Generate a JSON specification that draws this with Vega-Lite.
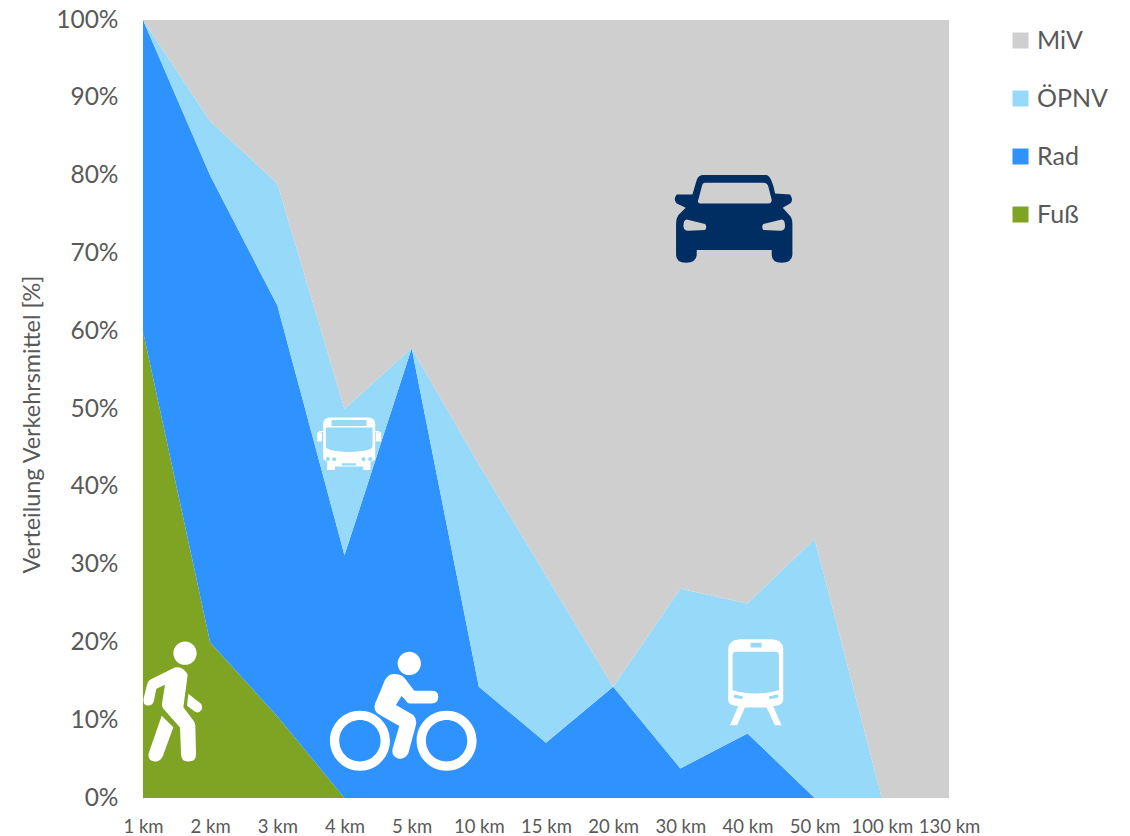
{
"$schema":"https://vega.github.io/schema/vega-lite/v6.json",
"width":806,"height":778,"autosize":{"type":"none"},
"padding":{"left":143,"top":20,"right":181,"bottom":38},
"background":"white",
"config":{"view":{"stroke":null},"font":"Lato"},
"resolve":{"scale":{"x":"independent"}},
"layer":[
{"data":{"values":[
{"km":"1 km","mode":"Fuß","rank":1,"share":60},{"km":"1 km","mode":"Rad","rank":2,"share":40},{"km":"1 km","mode":"ÖPNV","rank":3,"share":0},{"km":"1 km","mode":"MiV","rank":4,"share":0},
{"km":"2 km","mode":"Fuß","rank":1,"share":20},{"km":"2 km","mode":"Rad","rank":2,"share":60},{"km":"2 km","mode":"ÖPNV","rank":3,"share":7},{"km":"2 km","mode":"MiV","rank":4,"share":13},
{"km":"3 km","mode":"Fuß","rank":1,"share":10.5},{"km":"3 km","mode":"Rad","rank":2,"share":52.8},{"km":"3 km","mode":"ÖPNV","rank":3,"share":15.7},{"km":"3 km","mode":"MiV","rank":4,"share":21},
{"km":"4 km","mode":"Fuß","rank":1,"share":0},{"km":"4 km","mode":"Rad","rank":2,"share":31.2},{"km":"4 km","mode":"ÖPNV","rank":3,"share":18.8},{"km":"4 km","mode":"MiV","rank":4,"share":50},
{"km":"5 km","mode":"Fuß","rank":1,"share":0},{"km":"5 km","mode":"Rad","rank":2,"share":57.8},{"km":"5 km","mode":"ÖPNV","rank":3,"share":0},{"km":"5 km","mode":"MiV","rank":4,"share":42.2},
{"km":"10 km","mode":"Fuß","rank":1,"share":0},{"km":"10 km","mode":"Rad","rank":2,"share":14.3},{"km":"10 km","mode":"ÖPNV","rank":3,"share":28.6},{"km":"10 km","mode":"MiV","rank":4,"share":57.1},
{"km":"15 km","mode":"Fuß","rank":1,"share":0},{"km":"15 km","mode":"Rad","rank":2,"share":7.1},{"km":"15 km","mode":"ÖPNV","rank":3,"share":21.5},{"km":"15 km","mode":"MiV","rank":4,"share":71.4},
{"km":"20 km","mode":"Fuß","rank":1,"share":0},{"km":"20 km","mode":"Rad","rank":2,"share":14.3},{"km":"20 km","mode":"ÖPNV","rank":3,"share":0},{"km":"20 km","mode":"MiV","rank":4,"share":85.7},
{"km":"30 km","mode":"Fuß","rank":1,"share":0},{"km":"30 km","mode":"Rad","rank":2,"share":3.8},{"km":"30 km","mode":"ÖPNV","rank":3,"share":23.1},{"km":"30 km","mode":"MiV","rank":4,"share":73.1},
{"km":"40 km","mode":"Fuß","rank":1,"share":0},{"km":"40 km","mode":"Rad","rank":2,"share":8.3},{"km":"40 km","mode":"ÖPNV","rank":3,"share":16.7},{"km":"40 km","mode":"MiV","rank":4,"share":75},
{"km":"50 km","mode":"Fuß","rank":1,"share":0},{"km":"50 km","mode":"Rad","rank":2,"share":0},{"km":"50 km","mode":"ÖPNV","rank":3,"share":33.3},{"km":"50 km","mode":"MiV","rank":4,"share":66.7},
{"km":"100 km","mode":"Fuß","rank":1,"share":0},{"km":"100 km","mode":"Rad","rank":2,"share":0},{"km":"100 km","mode":"ÖPNV","rank":3,"share":0},{"km":"100 km","mode":"MiV","rank":4,"share":100},
{"km":"130 km","mode":"Fuß","rank":1,"share":0},{"km":"130 km","mode":"Rad","rank":2,"share":0},{"km":"130 km","mode":"ÖPNV","rank":3,"share":0},{"km":"130 km","mode":"MiV","rank":4,"share":100}
]},
"mark":{"type":"area","interpolate":"linear"},
"encoding":{
"x":{"field":"km","type":"ordinal","scale":{"type":"point","padding":0,"domain":["1 km","2 km","3 km","4 km","5 km","10 km","15 km","20 km","30 km","40 km","50 km","100 km","130 km"]},
"axis":{"title":null,"domain":false,"ticks":false,"labelAngle":0,"labelFontSize":18.5,"labelColor":"#595959","labelPadding":28,"labelBaseline":"middle","labelOverlap":false,"labelFont":"Lato","labelAlign":"center","labelBound":false,"labelFlush":false}},
"y":{"field":"share","type":"quantitative","stack":"zero","scale":{"domain":[0,100],"nice":false},
"axis":{"title":"Verteilung Verkehrsmittel [%]","titleFontSize":23.4,"titleFontWeight":"normal","titleColor":"#595959","titleFont":"Lato","titleX":-99,"titleY":404,"titleAnchor":"middle","values":[0,10,20,30,40,50,60,70,80,90,100],"labelExpr":"datum.value+'%'","labelFontSize":24.5,"labelColor":"#595959","labelPadding":25,"labelFont":"Lato","ticks":false,"grid":false,"domain":true,"domainColor":"#BFBFBF","domainWidth":1}},
"order":{"field":"rank","type":"ordinal"},
"color":{"field":"mode","type":"nominal","scale":{"domain":["MiV","ÖPNV","Rad","Fuß"],"range":["#CFCFCF","#97D9F8","#2E92FF","#7FA322"]},
"legend":{"title":null,"orient":"none","legendX":865,"legendY":8,"symbolType":"square","symbolSize":256,"symbolStrokeWidth":0,"symbolOpacity":1,"labelFontSize":25,"labelColor":"#595959","labelFont":"Lato","rowPadding":32,"labelOffset":4,"padding":0}}
}},
{"data":{"values":[{"icon":"Fuß","pos":0.447,"level":12.4}]},
"mark":{"type":"point","filled":true,"opacity":1,"size":0.4444,"color":"white","shape":"M1,-145 a35,35 0 1,0 70,0 a35,35 0 1,0 -70,0 Z M-69,-65 L5,-102 Q30,-108 44,-80 L31,17 L61,57 Q67,65 67,72 L69,158 Q70,180 46,180 Q24,180 24,158 L21,78 L-29,22 Q-35,15 -33,5 L-24,-50 L-50,-38 L-58,0 Q-62,12 -74,12 Q-92,12 -88,-10 L-78,-50 Q-76,-60 -69,-65 Z M-34,43 L1,77 L-31,165 Q-40,182 -56,180 Q-78,176 -73,155 Z M46,-23 L82,5 Q92,15 84,27 Q74,38 62,28 L42,13 Z"},
"encoding":{"x":{"field":"pos","type":"quantitative","scale":{"domain":[0,12],"nice":false},"axis":null},"y":{"field":"level","type":"quantitative"}}},
{"data":{"values":[{"icon":"Rad","pos":3.875,"level":11.3}]},
"mark":{"type":"point","filled":true,"opacity":1,"size":0.4444,"color":"white","shape":"M-220,92 a90,90 0 1,0 180,0 a90,90 0 1,0 -180,0 Z M-192,92 a62,62 0 1,1 124,0 a62,62 0 1,1 -124,0 Z M40,92 a90,90 0 1,0 180,0 a90,90 0 1,0 -180,0 Z M68,92 a62,62 0 1,1 124,0 a62,62 0 1,1 -124,0 Z M-17,-140 a35,35 0 1,0 70,0 a35,35 0 1,0 -70,0 Z M-55,-90 Q-45,-108 -30,-108 Q-5,-108 5,-95 L33,-58 L85,-58 Q105,-58 105,-40 Q105,-20 85,-20 L20,-20 Q12,-20 5,-32 L-5,-42 L-22,-15 L30,15 Q42,28 38,45 L15,130 Q5,148 -15,146 Q-37,138 -32,115 L-12,48 L-75,12 Q-95,-5 -80,-30 Z"},
"encoding":{"x":{"field":"pos","type":"quantitative","scale":{"domain":[0,12],"nice":false},"axis":null},"y":{"field":"level","type":"quantitative"}}},
{"data":{"values":[{"icon":"Bus","pos":3.07,"level":45.6}]},
"mark":{"type":"point","filled":true,"opacity":1,"size":0.4444,"color":"white","shape":"M-58,-77 L57,-77 Q78,-76 78,-58 L78,50 L64,55 L64,80 L42,80 L42,70 L-43,70 L-43,80 L-66,80 L-66,55 L-78,48 L-78,-58 Q-78,-76 -58,-77 Z M-53,-70 L-53,-52 L52,-52 L52,-70 Z M-70,-47 L-70,10 Q-68,25 0,26 Q67,25 70,10 L70,-47 Z M-70,47 a6,6 0 1,0 12,0 a6,6 0 1,0 -12,0 Z M-51,48 a6,6 0 1,0 12,0 a6,6 0 1,0 -12,0 Z M37,48 a6,6 0 1,0 12,0 a6,6 0 1,0 -12,0 Z M57,47 a6,6 0 1,0 12,0 a6,6 0 1,0 -12,0 Z M-22,60 L-22,67 L20,67 L20,60 Z M-96,-33 L-96,-5 L-82,-5 L-82,-33 Z M80,-33 L80,-5 L96,-5 L96,-33 Z M-90,-37 L-78,-37 L-78,-34 L-90,-34 Z M78,-37 L90,-37 L90,-34 L78,-34 Z"},
"encoding":{"x":{"field":"pos","type":"quantitative","scale":{"domain":[0,12],"nice":false},"axis":null},"y":{"field":"level","type":"quantitative"}}},
{"data":{"values":[{"icon":"MiV","pos":8.8,"level":74.5}]},
"mark":{"type":"point","filled":true,"opacity":1,"size":0.4444,"color":"#002D62","shape":"M-92,-130 L98,-130 Q113,-125 123,-75 L168,-72 Q180,-55 168,-45 L146,-32 L170,-5 Q175,3 175,15 L175,110 Q173,133 143,133 Q113,133 113,110 L113,95 L-112,95 L-112,110 Q-114,133 -144,133 Q-174,133 -174,110 L-174,15 Q-174,0 -167,-10 L-145,-32 L-172,-45 Q-184,-57 -172,-72 L-125,-72 L-112,-115 Q-107,-130 -92,-130 Z M-87,-107 Q-95,-107 -97,-95 L-107,-57 Q-112,-45 -102,-45 L103,-45 Q113,-45 113,-55 L103,-95 Q100,-107 88,-107 Z M-142,3 Q-152,3 -152,23 Q-152,37 -137,37 L-87,35 Q-80,25 -87,17 Z M143,3 L88,17 Q81,25 88,35 L138,37 Q153,37 153,23 Q153,3 143,3 Z"},
"encoding":{"x":{"field":"pos","type":"quantitative","scale":{"domain":[0,12],"nice":false},"axis":null},"y":{"field":"level","type":"quantitative"}}},
{"data":{"values":[{"icon":"ÖPNV","pos":9.12,"level":16}]},
"mark":{"type":"point","filled":true,"opacity":1,"size":0.4444,"color":"white","shape":"M-47,-103 L48,-103 Q81,-102 83,-75 L83,80 Q81,92 68,95 L53,98 L78,155 L58,155 L33,102 L-32,102 L-55,155 L-77,155 L-52,98 L-67,95 Q-82,92 -82,80 L-82,-75 Q-79,-102 -47,-103 Z M-15,-92 L-15,-78 L18,-78 L18,-92 Z M-69,-55 L-69,50 Q-32,60 0,60 Q33,60 70,50 L70,-55 Q70,-64 61,-65 L-59,-65 Q-69,-64 -69,-55 Z M-65,63 L-65,73 L-39,77 L-39,68 Z M68,63 L41,68 L41,77 L68,73 Z"},
"encoding":{"x":{"field":"pos","type":"quantitative","scale":{"domain":[0,12],"nice":false},"axis":null},"y":{"field":"level","type":"quantitative"}}}
]
}
